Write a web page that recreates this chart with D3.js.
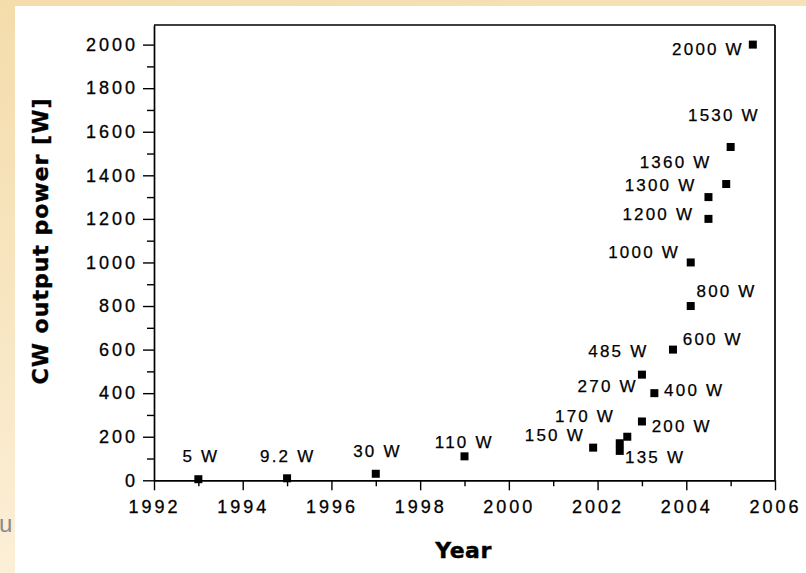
<!DOCTYPE html>
<html>
<head>
<meta charset="utf-8">
<script src="https://cdn.jsdelivr.net/npm/d3@7"></script>
<style>
  html, body { margin: 0; padding: 0; background: #fff; }
  svg { display: block; }
</style>
</head>
<body>
<svg id="chart" width="806" height="573"></svg>
<script>
// ---- data ----
const years  = [1993, 1995, 1997, 1999, 2001.9, 2002.5, 2002.5, 2002.67, 2003.0, 2003.28, 2003.0, 2003.7, 2004.1, 2004.1, 2004.5, 2004.5, 2004.9, 2005.0, 2005.5];
const powers = [5, 9.2, 30, 110, 150, 170, 135, 200, 270, 400, 485, 600, 800, 1000, 1200, 1300, 1360, 1530, 2000];
const labelTexts  = ["5 W", "9.2 W", "30 W", "110 W", "150 W", "170 W", "135 W", "200 W", "270 W", "400 W", "485 W", "600 W", "800 W", "1000 W", "1200 W", "1300 W", "1360 W", "1530 W", "2000 W"];
// label anchors (start of text, baseline) in data units
const labelYears  = [1992.64, 1994.39, 1996.49, 1998.33, 2000.36, 2001.04, 2002.62, 2003.22, 2001.55, 2003.50, 2001.79, 2003.92, 2004.23, 2002.24, 2002.56, 2002.61, 2002.95, 2004.04, 2003.68];
const labelPowers = [82.6, 82.6, 107, 149.7, 180.4, 269, 80.8, 223, 406.8, 387, 564.7, 621, 843, 1019, 1195, 1328, 1432.5, 1651, 1952.7];
const xMajorTicks = [1992, 1994, 1996, 1998, 2000, 2002, 2004, 2006];
const xMinorTicks = [1993, 1995, 1997, 1999, 2001, 2003, 2005];
const yMajorTicks = [0, 200, 400, 600, 800, 1000, 1200, 1400, 1600, 1800, 2000];
const yMinorTicks = [100, 300, 500, 700, 900, 1100, 1300, 1500, 1700, 1900];
const xTitle = "Year";
const yTitle = "CW output power [W]";

// ---- drawing ----
const svg = d3.select("#chart");
const W = 806, H = 573;

const defs = svg.append("defs");
const grad = defs.append("linearGradient").attr("id", "bg").attr("x1", 0).attr("y1", 0).attr("x2", 0.3).attr("y2", 1);
grad.append("stop").attr("offset", "0%").attr("stop-color", "#f4dcab");
grad.append("stop").attr("offset", "50%").attr("stop-color", "#f8e6c2");
grad.append("stop").attr("offset", "100%").attr("stop-color", "#fdf1db");

svg.append("rect").attr("x", 0).attr("y", 0).attr("width", W).attr("height", H).attr("fill", "url(#bg)");
svg.append("rect").attr("x", 15).attr("y", 6).attr("width", W - 15).attr("height", H - 6).attr("fill", "#ffffff");

svg.append("text").attr("x", -1).attr("y", 532)
  .attr("font-family", "Liberation Sans, Arial, sans-serif").attr("font-size", 24)
  .attr("fill", "#8a8a8a").text("u");

const plot = { left: 154, right: 775, top: 25, bottom: 480.3 };
const x = d3.scaleLinear().domain([1992, 2006]).range([plot.left, plot.right]);
const y = d3.scaleLinear().domain([0, 2090]).range([plot.bottom, plot.top]);

const tickFont = "Liberation Sans, Arial, sans-serif";

// minor ticks
svg.append("g").attr("transform", `translate(0,${plot.bottom})`)
  .call(d3.axisBottom(x).tickValues(xMinorTicks).tickSize(6).tickSizeOuter(0).tickFormat(""))
  .call(g => g.select(".domain").remove())
  .call(g => g.selectAll("line").attr("stroke", "#000").attr("stroke-width", 1.4));
svg.append("g").attr("transform", `translate(${plot.left},0)`)
  .call(d3.axisLeft(y).tickValues(yMinorTicks).tickSize(7).tickSizeOuter(0).tickFormat(""))
  .call(g => g.select(".domain").remove())
  .call(g => g.selectAll("line").attr("stroke", "#000").attr("stroke-width", 1.4));

// major axes
const xAxis = svg.append("g").attr("transform", `translate(0,${plot.bottom})`)
  .call(d3.axisBottom(x).tickValues(xMajorTicks).tickSize(10).tickSizeOuter(0).tickPadding(10).tickFormat(d3.format("d")));
const yAxis = svg.append("g").attr("transform", `translate(${plot.left},0)`)
  .call(d3.axisLeft(y).tickValues(yMajorTicks).tickSize(11).tickSizeOuter(0).tickPadding(5).tickFormat(d3.format("d")));

[xAxis, yAxis].forEach(g => {
  g.select(".domain").attr("stroke", "#000").attr("stroke-width", 1.7);
  g.selectAll(".tick line").attr("stroke", "#000").attr("stroke-width", 1.4);
  g.selectAll(".tick text").attr("font-family", tickFont).attr("font-size", 18)
    .attr("letter-spacing", "3px").attr("fill", "#000")
    .attr("stroke", "#000").attr("stroke-width", 0.3);
});

// frame top and right
svg.append("line").attr("x1", plot.left).attr("x2", plot.right).attr("y1", plot.top).attr("y2", plot.top)
  .attr("stroke", "#000").attr("stroke-width", 1.7);
svg.append("line").attr("x1", plot.right).attr("x2", plot.right).attr("y1", plot.top).attr("y2", plot.bottom)
  .attr("stroke", "#000").attr("stroke-width", 1.7);

// markers
const pts = years.map((yr, i) => ({ yr, p: powers[i] }));
svg.append("g").selectAll("rect").data(pts).join("rect")
  .attr("x", d => x(d.yr) - 4).attr("y", d => y(d.p) - 4)
  .attr("width", 8).attr("height", 8).attr("fill", "#000");

// point labels
const labs = labelTexts.map((t, i) => ({ t, yr: labelYears[i], p: labelPowers[i] }));
svg.append("g").selectAll("text").data(labs).join("text")
  .attr("x", d => x(d.yr)).attr("y", d => y(d.p))
  .attr("font-family", tickFont).attr("font-size", 17).attr("letter-spacing", "2.2px")
  .attr("fill", "#000").attr("stroke", "#000").attr("stroke-width", 0.25).text(d => d.t);

// titles
svg.append("text").attr("x", 463.5).attr("y", 557.7).attr("text-anchor", "middle")
  .attr("font-family", "DejaVu Sans, sans-serif").attr("font-weight", "bold").attr("font-size", 22)
  .attr("letter-spacing", "0.5px").attr("fill", "#000").attr("stroke", "#000").attr("stroke-width", 0.4).text(xTitle);
svg.append("text").attr("transform", "translate(48,241) rotate(-90)").attr("text-anchor", "middle")
  .attr("font-family", "DejaVu Sans, sans-serif").attr("font-weight", "bold").attr("font-size", 22)
  .attr("letter-spacing", "1px").attr("fill", "#000").attr("stroke", "#000").attr("stroke-width", 0.4).text(yTitle);
</script>
</body>
</html>
